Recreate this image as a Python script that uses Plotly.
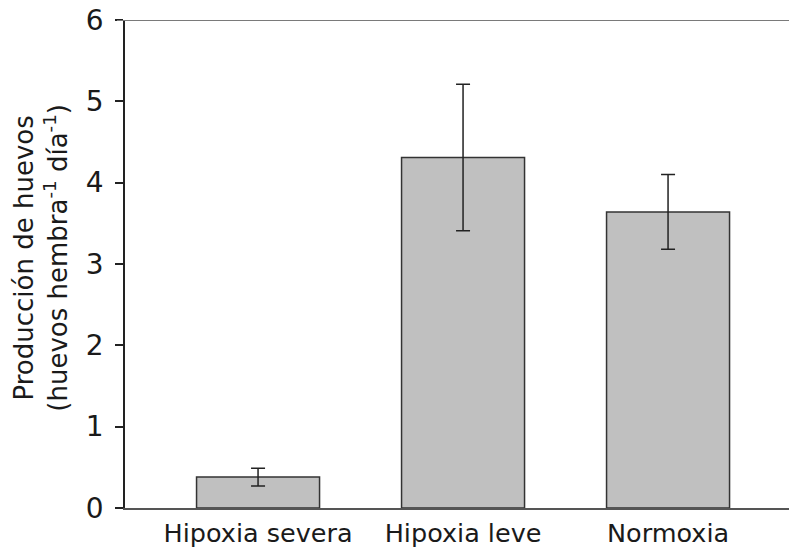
import plotly.graph_objects as go

# Egg production per treatment (mean ± error)
categories = ["Hipoxia severa", "Hipoxia leve", "Normoxia"]
means = [0.38, 4.31, 3.64]
errors = [0.11, 0.90, 0.46]
y_ticks = [0, 1, 2, 3, 4, 5, 6]

FONT = "DejaVu Sans"
positions = list(range(len(categories)))

fig = go.Figure()
fig.add_trace(go.Bar(
    x=positions,
    y=means,
    width=0.6,
    marker=dict(color="#c0c0c0", line=dict(color="#333333", width=1.5)),
    error_y=dict(type="data", array=errors, visible=True,
                 color="#222222", thickness=1.5, width=7),
    showlegend=False,
))

fig.update_layout(
    width=789, height=552,
    margin=dict(l=125, r=0, t=20, b=44),
    paper_bgcolor="white", plot_bgcolor="white",
    font=dict(family=FONT, size=26, color="#1a1a1a"),
    xaxis=dict(
        range=[-0.649, 2.59],
        tickvals=positions, ticktext=categories,
        showline=True, linecolor="#555555", linewidth=1.5,
        ticks="", showgrid=False, zeroline=False, automargin=False,
        tickfont=dict(size=25.5), ticklabelstandoff=2,
    ),
    yaxis=dict(
        range=[0, 6], tickvals=y_ticks,
        showline=True, linecolor="#222222", linewidth=1.5,
        ticks="outside", ticklen=8, tickwidth=1.5, tickcolor="#222222",
        showgrid=False, zeroline=False, automargin=False,
        tickfont=dict(size=28), ticklabelstandoff=6,
    ),
    annotations=[dict(
        text="Producción de huevos<br>(huevos hembra<sup>-1</sup> día<sup>-1</sup>)",
        xref="paper", yref="paper", x=-0.1258, y=0.514,
        xanchor="center", yanchor="middle", textangle=-90,
        showarrow=False, font=dict(family=FONT, size=26, color="#1a1a1a"),
    )],
    shapes=[dict(
        type="line", xref="paper", yref="y",
        x0=-8 / 664, x1=1, y0=6, y1=6,
        line=dict(color="#7a7a7a", width=2),
    )],
)

fig.write_html("out.html")
